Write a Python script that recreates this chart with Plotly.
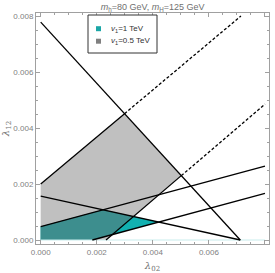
import plotly.graph_objects as go

# ---- data: straight boundary lines y = slope*x + intercept ----
line_names = ["A", "B", "C", "D", "E", "F"]
slopes = [-1.093, 0.84, 0.856, -0.2205, 0.27, 0.27]
intercepts = [0.00778, 0.002, -0.001994, 0.00157, 0.00048, -0.000497]

x_ticks = [0.000, 0.002, 0.004, 0.006, 0.008]
y_ticks = [0.000, 0.002, 0.004, 0.006, 0.008]
legend_names = ["<i>v</i><sub>1</sub>=1 TeV", "<i>v</i><sub>1</sub>=0.5 TeV"]
legend_colors = ["rgb(26,166,166)", "rgb(128,128,128)"]
title_text = "<i>m</i><sub>h</sub>=80 GeV, <i>m</i><sub>H</sub>=125 GeV"
XMAX = 0.008
YMAX = 0.008

L = {n: (s, b) for n, s, b in zip(line_names, slopes, intercepts)}


def y_at(n, x):
    s, b = L[n]
    return s * x + b


def root(n):
    s, b = L[n]
    return -b / s


def x_at_y(n, y):
    s, b = L[n]
    return (y - b) / s


def meet(n1, n2):
    s1, b1 = L[n1]
    s2, b2 = L[n2]
    x = (b2 - b1) / (s1 - s2)
    return x, s1 * x + b1


AB = meet("A", "B")
AC = meet("A", "C")
DE = meet("D", "E")
DF = meet("D", "F")
CD = meet("C", "D")
CF = meet("C", "F")

GRAY = "rgb(192,192,192)"
TEAL_BRIGHT = "rgb(18,176,176)"
TEAL_DARK = "rgb(61,142,142)"

fig = go.Figure()


def poly(pts, color):
    xs = [p[0] for p in pts] + [pts[0][0]]
    ys = [p[1] for p in pts] + [pts[0][1]]
    fig.add_trace(go.Scatter(x=xs, y=ys, fill="toself", fillcolor=color,
                             mode="lines", line=dict(width=0, color=color),
                             showlegend=False, hoverinfo="skip"))


# gray region (v1 = 0.5 TeV)
poly([(0, 0), (0, y_at("B", 0)), AB, AC, (root("C"), 0)], GRAY)
# teal region (v1 = 1 TeV)
poly([(0, 0), (0, y_at("E", 0)), DE, DF, (root("F"), 0)], TEAL_BRIGHT)
# overlap
poly([(0, 0), (0, y_at("E", 0)), DE, CD, CF, (root("F"), 0)], TEAL_DARK)

# faint baseline
fig.add_trace(go.Scatter(x=[0, XMAX], y=[0, 0], mode="lines",
                         line=dict(color="rgb(200,236,236)", width=1),
                         showlegend=False, hoverinfo="skip"))


def seg(n, x0, x1, dash="solid"):
    fig.add_trace(go.Scatter(x=[x0, x1], y=[y_at(n, x0), y_at(n, x1)], mode="lines",
                             line=dict(color="black", width=1.3, dash=dash),
                             showlegend=False, hoverinfo="skip"))


DASH = "3px,2px"
seg("A", 0, root("A"))
seg("B", 0, AB[0])
seg("B", AB[0], x_at_y("B", YMAX), DASH)
seg("C", root("C"), AC[0])
seg("C", AC[0], XMAX, DASH)
seg("D", 0, root("D"))
seg("E", 0, XMAX)
seg("F", root("F"), XMAX)

# ---- legend drawn in paper coordinates ----
PL, PR, PT, PB = 36, 269, 13, 244  # plot area in pixels


def px_x(p):
    return (p - PL) / (PR - PL)


def px_y(p):
    return (PB - p) / (PB - PT)


shapes = [dict(type="rect", xref="paper", yref="paper",
               x0=px_x(88), x1=px_x(157), y0=px_y(53), y1=px_y(15),
               line=dict(color="#333333", width=1), fillcolor="white", layer="above")]
annotations = []
for i, (name, col) in enumerate(zip(legend_names, legend_colors)):
    cy = 28.7 + 12.5 * i
    shapes.append(dict(type="rect", xref="paper", yref="paper",
                       x0=px_x(96), x1=px_x(101), y0=px_y(cy + 2.5), y1=px_y(cy - 2.5),
                       line=dict(width=0), fillcolor=col, layer="above"))
    annotations.append(dict(text=name, xref="paper", yref="paper", x=px_x(108.5), y=px_y(cy),
                            xanchor="left", yanchor="middle", showarrow=False,
                            font=dict(family="Liberation Sans", size=8, color="#333333")))

axis_common = dict(
    showline=True, linecolor="#a0a0a0", linewidth=1, mirror="allticks",
    ticks="inside", ticklen=4, tickwidth=1, tickcolor="#a0a0a0",
    showgrid=False, zeroline=False, tickformat=".3f", automargin=False,
    tickfont=dict(family="Liberation Sans", size=8, color="#808080"),
    minor=dict(ticks="inside", ticklen=2, tickcolor="#a0a0a0", dtick=0.0005, showgrid=False),
)

fig.update_layout(
    width=275, height=273,
    margin=dict(l=PL, r=275 - PR, t=PT, b=273 - PB, autoexpand=False),
    paper_bgcolor="white", plot_bgcolor="white",
    title=dict(text=title_text, x=0.555, xanchor="center", y=0.976, yanchor="middle",
               font=dict(family="Liberation Sans", size=9, color="#707070")),
    xaxis=dict(range=[-0.000168, 0.008143], tickvals=x_ticks,
               title=dict(text="<i>λ</i><sub>02</sub>", standoff=7,
                          font=dict(family="DejaVu Serif", size=10, color="#707070")),
               **axis_common),
    yaxis=dict(range=[-0.000143, 0.008107], tickvals=y_ticks,
               title=dict(text="<i>λ</i><sub>12</sub>", standoff=1,
                          font=dict(family="DejaVu Serif", size=10, color="#707070")),
               **axis_common),
    shapes=shapes,
    annotations=annotations,
    showlegend=False,
)

fig.write_html("out.html", config={"displayModeBar": False},
               post_script="document.body.style.margin='0';document.body.style.overflow='hidden';")
